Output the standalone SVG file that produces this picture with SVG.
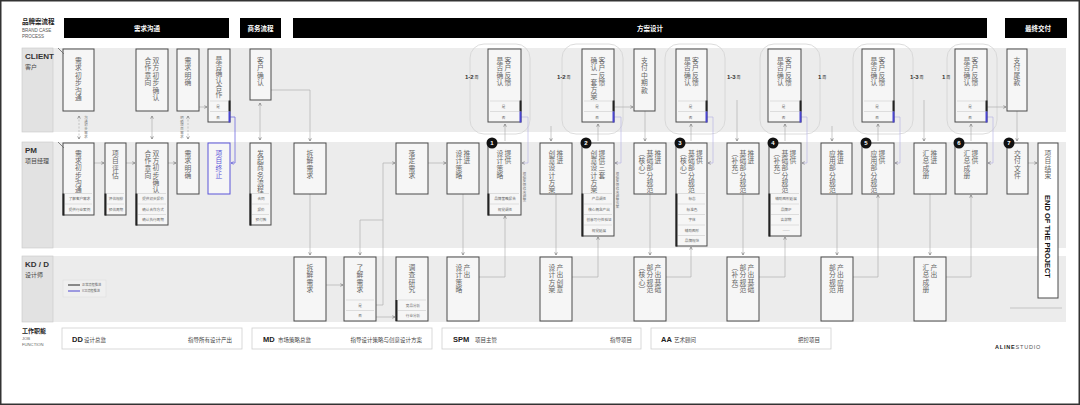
<svg xmlns="http://www.w3.org/2000/svg" width="1080" height="405" viewBox="0 0 1080 405">
<style>
.lane{fill:#ececec}
.lab{fill:#e2e2e2;stroke:#c8c8c8;stroke-width:.6}
.n{fill:#f6f6f6;stroke:#4a4a4a;stroke-width:1}
.nb{fill:#f6f6f6;stroke:#5a55d8;stroke-width:1}
.sep{stroke:#c4c4c4;stroke-width:.5}
.v{font-family:"Noto Sans CJK SC","Noto Sans CJK JP",sans-serif;font-size:6.8px;fill:#666;text-anchor:middle}
.vb{font-family:"Noto Sans CJK SC","Noto Sans CJK JP",sans-serif;font-size:6.8px;fill:#5a55d8;text-anchor:middle}
.vt{font-family:"Noto Sans CJK SC",sans-serif;font-size:3.4px;fill:#777;text-anchor:middle}
.s{font-family:"Noto Sans CJK SC",sans-serif;font-size:3.6px;fill:#666;text-anchor:middle}
.c{fill:none;stroke:#a9a9a9;stroke-width:.6}
.cp{fill:none;stroke:#b3b0e4;stroke-width:.6}
.cb{fill:none;stroke:#6e69e0;stroke-width:.8}
.ol{fill:none;stroke:#d3d3d3;stroke-width:.8}
.ht{font-family:"Noto Sans CJK SC",sans-serif;font-size:6.5px;font-weight:700;fill:#fff;text-anchor:middle}
.bar{fill:#222}
.blu{fill:#4a45d0}
.bt{font-family:"Liberation Sans",Arial,sans-serif;font-size:6px;font-weight:700;fill:#fff;text-anchor:middle}
.jb{font-family:"Liberation Sans",Arial,sans-serif;font-size:7.5px;font-weight:700;fill:#222}
.jt{font-family:"Noto Sans CJK SC",sans-serif;font-size:5.5px;fill:#444}
.jr{font-family:"Noto Sans CJK SC",sans-serif;font-size:5.5px;fill:#444;text-anchor:end}
.jbox{fill:#fff;stroke:#cfcfcf;stroke-width:.8}
</style>
<defs>
<marker id="ch" viewBox="0 0 6 6" refX="5" refY="3" markerWidth="4" markerHeight="4" orient="auto-start-reverse" markerUnits="userSpaceOnUse"><path d="M1,1 L5,3 L1,5" fill="none" stroke="#777" stroke-width="1"/></marker>
<marker id="chb" viewBox="0 0 6 6" refX="5" refY="3" markerWidth="4" markerHeight="4" orient="auto" markerUnits="userSpaceOnUse"><path d="M1,1 L5,3 L1,5" fill="none" stroke="#5a55d8" stroke-width="1"/></marker>
</defs>
<rect x="0.75" y="0.75" width="1078.5" height="403.5" fill="#fff" stroke="#333" stroke-width="1.5"/>

<g id="title">
<text x="22" y="24" font-family="Noto Sans CJK SC,sans-serif" font-size="6.5" font-weight="700" fill="#222">品牌案流程</text>
<text x="22" y="32" font-family="Liberation Sans,Arial,sans-serif" font-size="4.5" fill="#555">BRAND CASE</text>
<text x="22" y="38" font-family="Liberation Sans,Arial,sans-serif" font-size="4.5" fill="#555">PROCESS</text>
</g>

<g id="headers">
<rect x="64" y="18" width="165" height="20" fill="#000"/>
<text x="147" y="30.5" class="ht">需求沟通</text>
<rect x="240" y="18" width="41" height="20" fill="#000"/>
<text x="260.5" y="30.5" class="ht">商务流程</text>
<rect x="293" y="18" width="694" height="20" fill="#000"/>
<text x="650" y="30.5" class="ht">方案设计</text>
<rect x="1005" y="18" width="62" height="20" fill="#000"/>
<text x="1038" y="30.5" class="ht">最终交付</text>
</g>

<g id="lanes">
<rect class="lane" x="53" y="48" width="1013" height="84"/>
<rect class="lab" x="22" y="48" width="31" height="84"/>
<text x="25" y="59" font-family="Liberation Sans,Arial,sans-serif" font-size="8" font-weight="700" fill="#333">CLIENT</text>
<text x="25" y="69" font-family="Noto Sans CJK SC,sans-serif" font-size="6" fill="#444">客户</text>
<rect class="lane" x="53" y="142" width="1013" height="106"/>
<rect class="lab" x="22" y="142" width="31" height="106"/>
<text x="25" y="153" font-family="Liberation Sans,Arial,sans-serif" font-size="8" font-weight="700" fill="#333">PM</text>
<text x="25" y="163" font-family="Noto Sans CJK SC,sans-serif" font-size="6" fill="#444">项目经理</text>
<rect class="lane" x="53" y="256" width="1013" height="66"/>
<rect class="lab" x="22" y="256" width="31" height="66"/>
<text x="25" y="267" font-family="Liberation Sans,Arial,sans-serif" font-size="8" font-weight="700" fill="#333">KD / D</text>
<text x="25" y="277" font-family="Noto Sans CJK SC,sans-serif" font-size="6" fill="#444">设计师</text>
</g>

<g id="outlines">
<rect class="ol" x="470" y="44" width="60" height="90" rx="14"/>
<rect class="ol" x="562" y="44" width="61" height="90" rx="14"/>
<rect class="ol" x="665" y="44" width="60" height="90" rx="14"/>
<rect class="ol" x="760" y="44" width="60" height="90" rx="14"/>
<rect class="ol" x="853" y="44" width="60" height="90" rx="14"/>
<rect class="ol" x="947" y="44" width="50" height="90" rx="14"/>
<g font-family="Liberation Sans,Arial,sans-serif" fill="#333">
<text x="465" y="79" font-size="6" font-weight="700">1-2<tspan font-size="4" font-weight="400" font-family="Noto Sans CJK SC,sans-serif"> 周</tspan></text>
<text x="557" y="79" font-size="6" font-weight="700">1-2<tspan font-size="4" font-weight="400" font-family="Noto Sans CJK SC,sans-serif"> 周</tspan></text>
<text x="727" y="79" font-size="6" font-weight="700">1-3<tspan font-size="4" font-weight="400" font-family="Noto Sans CJK SC,sans-serif"> 周</tspan></text>
<text x="818" y="79" font-size="6" font-weight="700">1<tspan font-size="4" font-weight="400" font-family="Noto Sans CJK SC,sans-serif"> 周</tspan></text>
<text x="910" y="79" font-size="6" font-weight="700">1-3<tspan font-size="4" font-weight="400" font-family="Noto Sans CJK SC,sans-serif"> 周</tspan></text>
<text x="942" y="79" font-size="6" font-weight="700">1<tspan font-size="4" font-weight="400" font-family="Noto Sans CJK SC,sans-serif"> 周</tspan></text>
</g>
</g>

<g id="connectors">
<path class="c" d="M79,116 V139" stroke-dasharray="2 1.5" marker-start="url(#ch)" marker-end="url(#ch)"/>
<text class="vt" x="86 86 86 86 86 86" y="119 122.7 126.4 130.1 133.8 137.5">沟通初步需求</text>
<path class="c" d="M152,116 V139" marker-start="url(#ch)" marker-end="url(#ch)"/>
<path class="c" d="M188,116 V139" stroke-dasharray="2 1.5" marker-start="url(#ch)" marker-end="url(#ch)"/>
<text class="vt" x="182 182 182 182 182 182" y="119 122.7 126.4 130.1 133.8 137.5">明确项目需求</text>
<path class="c" d="M199,107 H207" marker-end="url(#ch)"/>
<path class="cb" d="M230,117 H235 V163 H231" marker-end="url(#chb)"/>
<path class="c" d="M260,103 V140" marker-start="url(#ch)" marker-end="url(#ch)"/>
<path class="c" d="M271,90 H310 V141" marker-end="url(#ch)"/>
<path class="c" d="M94,163 H104" marker-end="url(#ch)"/>
<path class="c" d="M126,163 H135" marker-end="url(#ch)"/>
<path class="c" d="M168,163 H176" marker-end="url(#ch)"/>
<path class="c" d="M310,194 V255" marker-end="url(#ch)"/>
<path class="c" d="M326,285 H343" marker-end="url(#ch)"/>
<path class="c" d="M383,220 H360 V255" marker-end="url(#ch)"/>
<path class="c" d="M376,305 H383 V163 H395" marker-end="url(#ch)"/>
<path class="c" d="M376,317 H395" marker-end="url(#ch)"/>
<path class="c" d="M428,163 H446" marker-end="url(#ch)"/>
<path class="c" d="M463,194 V255" marker-end="url(#ch)"/>
<path class="c" d="M479,277 H505 V216" marker-end="url(#ch)"/>
<path class="c" d="M505,141 V124" marker-end="url(#ch)"/>
<path class="cp" d="M521,117 H528 V163 H522" marker-end="url(#ch)"/>
<text class="vt" x="524.5 524.5 524.5 524.5 524.5 524.5 524.5 524.5" y="175 178.7 182.4 186.1 189.8 193.5 197.2 200.9">根据反馈修改调整</text>
<path class="c" d="M551,126 V141" marker-end="url(#ch)"/>
<path class="c" d="M556,194 V255" marker-end="url(#ch)"/>
<path class="c" d="M572,277 H598 V237" marker-end="url(#ch)"/>
<path class="c" d="M598,141 V124" marker-end="url(#ch)"/>
<path class="cp" d="M614,117 H621 V163 H615" marker-end="url(#ch)"/>
<text class="vt" x="617.5 617.5 617.5 617.5 617.5 617.5 617.5 617.5 617.5 617.5" y="175 178.7 182.4 186.1 189.8 193.5 197.2 200.9 204.6 208.3">根据反馈修改调整方案</text>
<path class="c" d="M614,107 H633" marker-end="url(#ch)"/>
<path class="c" d="M645,111 V141" marker-end="url(#ch)"/>
<path class="c" d="M650,194 V255" marker-end="url(#ch)"/>
<path class="c" d="M666,277 H691 V247" marker-end="url(#ch)"/>
<path class="c" d="M691,141 V124" marker-end="url(#ch)"/>
<path class="cp" d="M707,117 H713 V163 H708" marker-end="url(#ch)"/>
<path class="c" d="M737,100 V141" marker-end="url(#ch)"/>
<path class="c" d="M743,194 V255" marker-end="url(#ch)"/>
<path class="c" d="M759,277 H785 V237" marker-end="url(#ch)"/>
<path class="c" d="M785,141 V124" marker-end="url(#ch)"/>
<path class="cp" d="M801,117 H807 V163 H802" marker-end="url(#ch)"/>
<path class="c" d="M832,126 V141" marker-end="url(#ch)"/>
<path class="c" d="M837,194 V255" marker-end="url(#ch)"/>
<path class="c" d="M853,277 H878 V195" marker-end="url(#ch)"/>
<path class="c" d="M878,141 V124" marker-end="url(#ch)"/>
<path class="cp" d="M894,117 H900 V163 H895" marker-end="url(#ch)"/>
<path class="c" d="M924,100 V141" marker-end="url(#ch)"/>
<path class="c" d="M930,194 V255" marker-end="url(#ch)"/>
<path class="c" d="M946,277 H971 V195" marker-end="url(#ch)"/>
<path class="c" d="M971,141 V124" marker-end="url(#ch)"/>
<path class="cp" d="M987,117 H993 V163 H988" marker-end="url(#ch)"/>
<path class="c" d="M987,107 H1006" marker-end="url(#ch)"/>
<path class="c" d="M1017,111 V141" marker-end="url(#ch)"/>
<path class="c" d="M1028,163 H1037" marker-end="url(#ch)"/>
<line x1="1010" y1="308" x2="1062" y2="308" stroke="#bbb" stroke-width=".8"/>
</g>

<!-- CLIENT nodes -->
<g id="c1"><rect class="n" x="63" y="49" width="31" height="62"/><line x1="58" y1="48" x2="64" y2="54" stroke="#666" stroke-width=".8"/><text class="v" x="78.5 78.5 78.5 78.5 78.5 78.5" y="63 70.4 77.8 85.2 92.6 100">需求初步沟通</text></g>
<g id="c2"><rect class="n" x="136" y="49" width="32" height="62"/><text class="v" x="156 156 156 156 156 156" y="63 70.4 77.8 85.2 92.6 100">双方初步确认</text><text class="v" x="148 148 148 148" y="63 70.4 77.8 85.2">合作意向</text></g>
<g id="c3"><rect class="n" x="177" y="49" width="22" height="62"/><text class="v" x="188 188 188 188" y="63 70.4 77.8 85.2">需求明确</text></g>
<g id="c4"><rect class="n" x="208" y="49" width="22" height="73"/><text class="v" x="219 219 219 219 219 219" y="62 69 76 83 90 97">是否确认合作</text><line class="sep" x1="210" y1="101" x2="228" y2="101"/><line class="sep" x1="210" y1="111.5" x2="228" y2="111.5"/><text class="s" x="218" y="108">是</text><text class="s" x="218" y="118.5">否</text><rect class="bar" x="228.5" y="100.5" width="2" height="11"/><rect class="blu" x="228.5" y="111.5" width="2" height="11"/></g>
<g id="c5"><rect class="n" x="250" y="49" width="21" height="51"/><text class="v" x="260.5 260.5 260.5 260.5" y="63 70.4 77.8 85.2">客户确认</text></g>
<g id="c6"><rect class="n" x="488" y="49" width="33" height="73"/><text class="v" x="508 508 508 508" y="63 70.4 77.8 85.2">客户反馈</text><text class="v" x="500 500 500 500" y="63 70.4 77.8 85.2">是否确认</text><line class="sep" x1="490" y1="101" x2="519" y2="101"/><line class="sep" x1="490" y1="111.5" x2="519" y2="111.5"/><text class="s" x="503.5" y="108">是</text><text class="s" x="503.5" y="118.5">否</text><rect class="bar" x="519.5" y="100.5" width="2" height="11"/><rect class="blu" x="519.5" y="111.5" width="2" height="11"/></g>
<g id="c7"><rect class="n" x="582" y="49" width="32" height="73"/><text class="v" x="602 602 602 602" y="63 70.4 77.8 85.2">客户反馈</text><text class="v" x="594 594 594 594 594 594" y="63 70.2 77.4 84.6 91.8 99">确认一套方案</text><line class="sep" x1="584" y1="101" x2="612" y2="101"/><line class="sep" x1="584" y1="111.5" x2="612" y2="111.5"/><text class="s" x="597" y="108">是</text><text class="s" x="597" y="118.5">否</text><rect class="bar" x="612.5" y="100.5" width="2" height="11"/><rect class="blu" x="612.5" y="111.5" width="2" height="11"/></g>
<g id="c8"><rect class="n" x="634" y="49" width="21" height="62"/><text class="v" x="644.5 644.5 644.5 644.5 644.5" y="63 70.4 77.8 85.2 92.6">支付中期款</text></g>
<g id="c9"><rect class="n" x="676" y="49" width="31" height="73"/><text class="v" x="695.5 695.5 695.5 695.5" y="63 70.4 77.8 85.2">客户反馈</text><text class="v" x="687.5 687.5 687.5 687.5" y="63 70.4 77.8 85.2">是否确认</text><line class="sep" x1="678" y1="101" x2="705" y2="101"/><line class="sep" x1="678" y1="111.5" x2="705" y2="111.5"/><text class="s" x="690.5" y="108">是</text><text class="s" x="690.5" y="118.5">否</text><rect class="bar" x="705.5" y="100.5" width="2" height="11"/><rect class="blu" x="705.5" y="111.5" width="2" height="11"/></g>
<g id="c10"><rect class="n" x="768" y="49" width="33" height="73"/><text class="v" x="788.5 788.5 788.5 788.5" y="63 70.4 77.8 85.2">客户反馈</text><text class="v" x="780.5 780.5 780.5 780.5" y="63 70.4 77.8 85.2">是否确认</text><line class="sep" x1="770" y1="101" x2="799" y2="101"/><line class="sep" x1="770" y1="111.5" x2="799" y2="111.5"/><text class="s" x="783.5" y="108">是</text><text class="s" x="783.5" y="118.5">否</text><rect class="bar" x="799.5" y="100.5" width="2" height="11"/><rect class="blu" x="799.5" y="111.5" width="2" height="11"/></g>
<g id="c11"><rect class="n" x="862" y="49" width="32" height="73"/><text class="v" x="882 882 882 882" y="63 70.4 77.8 85.2">客户反馈</text><text class="v" x="874 874 874 874" y="63 70.4 77.8 85.2">是否确认</text><line class="sep" x1="864" y1="101" x2="892" y2="101"/><line class="sep" x1="864" y1="111.5" x2="892" y2="111.5"/><text class="s" x="877" y="108">是</text><text class="s" x="877" y="118.5">否</text><rect class="bar" x="892.5" y="100.5" width="2" height="11"/><rect class="blu" x="892.5" y="111.5" width="2" height="11"/></g>
<g id="c12"><rect class="n" x="955" y="49" width="32" height="73"/><text class="v" x="975 975 975 975" y="63 70.4 77.8 85.2">客户反馈</text><text class="v" x="967 967 967 967" y="63 70.4 77.8 85.2">是否确认</text><line class="sep" x1="957" y1="101" x2="985" y2="101"/><line class="sep" x1="957" y1="111.5" x2="985" y2="111.5"/><text class="s" x="970" y="108">是</text><text class="s" x="970" y="118.5">否</text><rect class="bar" x="985.5" y="100.5" width="2" height="11"/><rect class="blu" x="985.5" y="111.5" width="2" height="11"/></g>
<g id="c13"><rect class="n" x="1007" y="49" width="20" height="62"/><text class="v" x="1017 1017 1017 1017" y="63 70.4 77.8 85.2">支付尾款</text></g>

<!-- PM nodes -->
<g id="p1"><rect class="n" x="63" y="143" width="31" height="72"/><line x1="58" y1="142" x2="64" y2="148" stroke="#666" stroke-width=".8"/><text class="v" x="78.5 78.5 78.5 78.5 78.5 78.5" y="156 163.2 170.4 177.6 184.8 192">需求初步沟通</text><line class="sep" x1="65" y1="193.5" x2="92" y2="193.5"/><line class="sep" x1="65" y1="204" x2="92" y2="204"/><text class="s" x="79.5" y="200.3">了解客户需求</text><text class="s" x="79.5" y="210.8">提供行业案例</text><rect class="bar" x="62.5" y="193.5" width="2" height="22"/></g>
<g id="p2"><rect class="n" x="105" y="143" width="21" height="72"/><text class="v" x="115.5 115.5 115.5 115.5" y="156 163.4 170.8 178.2">项目评估</text><line class="sep" x1="107" y1="193.5" x2="124" y2="193.5"/><line class="sep" x1="107" y1="204" x2="124" y2="204"/><text class="s" x="116" y="200.3">评估规模</text><text class="s" x="116" y="210.8">预估周期</text><rect class="bar" x="104.5" y="193.5" width="2" height="22"/></g>
<g id="p3"><rect class="n" x="136" y="143" width="32" height="82"/><text class="v" x="156 156 156 156 156 156" y="156 163.2 170.4 177.6 184.8 192">双方初步确认</text><text class="v" x="148 148 148 148" y="156 163.4 170.8 178.2">合作意向</text><line class="sep" x1="138" y1="193.5" x2="166" y2="193.5"/><line class="sep" x1="138" y1="204" x2="166" y2="204"/><line class="sep" x1="138" y1="214.5" x2="166" y2="214.5"/><text class="s" x="153" y="200.3">提供初步报价</text><text class="s" x="153" y="210.8">确认合作方式</text><text class="s" x="153" y="221.3">确认执行周期</text><rect class="bar" x="135.5" y="193.5" width="2" height="32"/></g>
<g id="p4"><rect class="n" x="177" y="143" width="22" height="51"/><text class="v" x="188 188 188 188" y="156 163.4 170.8 178.2">需求明确</text></g>
<g id="p5"><rect class="nb" x="208" y="143" width="22" height="51"/><text class="vb" x="219 219 219 219" y="156 163.4 170.8 178.2">项目终止</text></g>
<g id="p6"><rect class="n" x="250" y="143" width="21" height="82"/><text class="v" x="260.5 260.5 260.5 260.5 260.5 260.5" y="156 163.2 170.4 177.6 184.8 192">发起商务流程</text><line class="sep" x1="252" y1="193.5" x2="269" y2="193.5"/><line class="sep" x1="252" y1="204" x2="269" y2="204"/><line class="sep" x1="252" y1="214.5" x2="269" y2="214.5"/><text class="s" x="261" y="200.3">合同</text><text class="s" x="261" y="210.8">报价</text><text class="s" x="261" y="221.3">预付款</text><rect class="bar" x="249.5" y="193.5" width="2" height="32"/></g>
<g id="p7"><rect class="n" x="294" y="143" width="32" height="51"/><text class="v" x="310 310 310 310" y="156 163.4 170.8 178.2">拆解需求</text></g>
<g id="p8"><rect class="n" x="396" y="143" width="32" height="51"/><text class="v" x="412 412 412 412" y="156 163.4 170.8 178.2">落定需求</text></g>
<g id="p9"><rect class="n" x="447" y="143" width="32" height="51"/><text class="v" x="467 467" y="156 163.4">推进</text><text class="v" x="459 459 459 459" y="156 163.4 170.8 178.2">设计策略</text></g>
<g id="p10"><rect class="n" x="488" y="143" width="33" height="72"/><text class="v" x="508 508" y="156 163.4">提供</text><text class="v" x="500 500 500 500" y="156 163.4 170.8 178.2">设计策略</text><line class="sep" x1="490" y1="193.5" x2="519" y2="193.5"/><line class="sep" x1="490" y1="204" x2="519" y2="204"/><text class="s" x="505" y="200.3">品牌策略报告</text><text class="s" x="505" y="210.8">视觉调性</text><rect class="bar" x="487.5" y="193.5" width="2" height="22"/><circle cx="492" cy="143" r="5.5" fill="#111"/><text class="bt" x="492" y="145.2">1</text></g>
<g id="p11"><rect class="n" x="540" y="143" width="32" height="51"/><text class="v" x="560 560" y="156 163.2">推进</text><text class="v" x="552 552 552 552 552 552" y="156 163.2 170.4 177.6 184.8 192">创意设计方案</text></g>
<g id="p12"><rect class="n" x="582" y="143" width="32" height="93"/><text class="v" x="602 602 602 602" y="156 163.2 170.4 177.6">提供三套</text><text class="v" x="594 594 594 594 594 594" y="156 163.2 170.4 177.6 184.8 192">创意设计方案</text><line class="sep" x1="584" y1="193.5" x2="612" y2="193.5"/><line class="sep" x1="584" y1="204" x2="612" y2="204"/><line class="sep" x1="584" y1="214.5" x2="612" y2="214.5"/><line class="sep" x1="584" y1="225" x2="612" y2="225"/><text class="s" x="599" y="200.3">产品调性</text><text class="s" x="599" y="210.8">核心概念产出</text><text class="s" x="599" y="221.3">创意可行性验证</text><text class="s" x="599" y="231.8">视觉延展</text><rect class="bar" x="581.5" y="193.5" width="2" height="43"/><circle cx="586" cy="143" r="5.5" fill="#111"/><text class="bt" x="586" y="145.2">2</text></g>
<g id="p13"><rect class="n" x="634" y="143" width="32" height="51"/><text class="v" x="658 658" y="156 163.2">推进</text><text class="v" x="650 650 650 650 650 650" y="156 163.2 170.4 177.6 184.8 192">基础部分规范</text><text class="v" x="642 642 642 642" y="156 163.2 170.4 177.6">︵核心︶</text></g>
<g id="p14"><rect class="n" x="676" y="143" width="31" height="103"/><text class="v" x="699.5 699.5" y="156 163.2">提供</text><text class="v" x="691.5 691.5 691.5 691.5 691.5 691.5" y="156 163.2 170.4 177.6 184.8 192">基础部分规范</text><text class="v" x="683.5 683.5 683.5 683.5" y="156 163.2 170.4 177.6">︵核心︶</text><line class="sep" x1="678" y1="193.5" x2="705" y2="193.5"/><line class="sep" x1="678" y1="204" x2="705" y2="204"/><line class="sep" x1="678" y1="214.5" x2="705" y2="214.5"/><line class="sep" x1="678" y1="225" x2="705" y2="225"/><line class="sep" x1="678" y1="235.5" x2="705" y2="235.5"/><text class="s" x="692" y="200.3">标志</text><text class="s" x="692" y="210.8">标准色</text><text class="s" x="692" y="221.3">字体</text><text class="s" x="692" y="231.8">辅助图形</text><text class="s" x="692" y="242.3">品牌规范</text><rect class="bar" x="675.5" y="193.5" width="2" height="53"/><circle cx="680" cy="143" r="5.5" fill="#111"/><text class="bt" x="680" y="145.2">3</text></g>
<g id="p15"><rect class="n" x="727" y="143" width="32" height="51"/><text class="v" x="751 751" y="156 163.2">推进</text><text class="v" x="743 743 743 743 743 743" y="156 163.2 170.4 177.6 184.8 192">基础部分规范</text><text class="v" x="735 735 735 735" y="156 163.2 170.4 177.6">︵补充︶</text></g>
<g id="p16"><rect class="n" x="769" y="143" width="32" height="93"/><text class="v" x="793 793" y="156 163.2">提供</text><text class="v" x="785 785 785 785 785 785" y="156 163.2 170.4 177.6 184.8 192">基础部分规范</text><text class="v" x="777 777 777 777" y="156 163.2 170.4 177.6">︵补充︶</text><line class="sep" x1="771" y1="193.5" x2="799" y2="193.5"/><line class="sep" x1="771" y1="204" x2="799" y2="204"/><line class="sep" x1="771" y1="214.5" x2="799" y2="214.5"/><line class="sep" x1="771" y1="225" x2="799" y2="225"/><text class="s" x="786" y="200.3">辅助图形延展</text><text class="s" x="786" y="210.8">品牌IP</text><text class="s" x="786" y="221.3">吉祥物</text><text class="s" x="786" y="231.8">……</text><rect class="bar" x="768.5" y="193.5" width="2" height="43"/><circle cx="773" cy="143" r="5.5" fill="#111"/><text class="bt" x="773" y="145.2">4</text></g>
<g id="p17"><rect class="n" x="821" y="143" width="31" height="51"/><text class="v" x="840.5 840.5" y="156 163.2">推进</text><text class="v" x="832.5 832.5 832.5 832.5 832.5 832.5" y="156 163.2 170.4 177.6 184.8 192">应用部分规范</text></g>
<g id="p18"><rect class="n" x="862" y="143" width="32" height="51"/><text class="v" x="882 882" y="156 163.2">提供</text><text class="v" x="874 874 874 874 874 874" y="156 163.2 170.4 177.6 184.8 192">应用部分规范</text><circle cx="866" cy="143" r="5.5" fill="#111"/><text class="bt" x="866" y="145.2">5</text></g>
<g id="p19"><rect class="n" x="914" y="143" width="32" height="51"/><text class="v" x="934 934" y="156 163.4">推进</text><text class="v" x="926 926 926 926" y="156 163.4 170.8 178.2">汇总成册</text></g>
<g id="p20"><rect class="n" x="955" y="143" width="32" height="51"/><text class="v" x="975 975" y="156 163.4">提供</text><text class="v" x="967 967 967 967" y="156 163.4 170.8 178.2">汇总成册</text><circle cx="959" cy="143" r="5.5" fill="#111"/><text class="bt" x="959" y="145.2">6</text></g>
<g id="p21"><rect class="n" x="1007" y="143" width="21" height="51"/><text class="v" x="1017.5 1017.5 1017.5 1017.5" y="156 163.4 170.8 178.2">交付文件</text><circle cx="1009" cy="143" r="5.5" fill="#111"/><text class="bt" x="1009" y="145.2">7</text></g>
<g id="p22"><rect x="1038" y="143" width="20" height="155" fill="#fff" stroke="#4a4a4a" stroke-width="1"/><text class="v" x="1048 1048 1048 1048" y="156 163.4 170.8 178.2">项目结束</text><text transform="translate(1045,195) rotate(90)" font-family="Liberation Sans,Arial,sans-serif" font-size="7.5" font-weight="700" fill="#111">END OF THE PROJECT</text></g>

<!-- KD / D nodes -->
<g id="k1"><rect class="n" x="294" y="257" width="32" height="64"/><text class="v" x="310 310 310 310" y="270 277.4 284.8 292.2">拆解需求</text></g>
<g id="k2"><rect class="n" x="344" y="257" width="32" height="64"/><text class="v" x="360 360 360 360" y="270 277.4 284.8 292.2">了解需求</text><line class="sep" x1="346" y1="300" x2="374" y2="300"/><line class="sep" x1="346" y1="310.5" x2="374" y2="310.5"/><text class="s" x="360" y="306.8">是</text><text class="s" x="360" y="317.3">否</text></g>
<g id="k3"><rect class="n" x="396" y="257" width="32" height="64"/><text class="v" x="412 412 412 412" y="270 277.4 284.8 292.2">调查研究</text><line class="sep" x1="398" y1="300" x2="426" y2="300"/><line class="sep" x1="398" y1="310.5" x2="426" y2="310.5"/><text class="s" x="413" y="306.8">竞品分析</text><text class="s" x="413" y="317.3">行业分析</text><rect class="bar" x="395.5" y="300" width="2" height="21"/></g>
<g id="k4"><rect class="n" x="447" y="257" width="32" height="64"/><text class="v" x="467 467" y="270 277.4">产出</text><text class="v" x="459 459 459 459" y="270 277.4 284.8 292.2">设计策略</text></g>
<g id="k5"><rect class="n" x="540" y="257" width="32" height="64"/><text class="v" x="560 560 560 560" y="270 277.4 284.8 292.2">产出创意</text><text class="v" x="552 552 552 552" y="270 277.4 284.8 292.2">设计方案</text></g>
<g id="k6"><rect class="n" x="634" y="257" width="32" height="64"/><text class="v" x="658 658 658 658" y="270 277.4 284.8 292.2">产出基础</text><text class="v" x="650 650 650 650" y="270 277.4 284.8 292.2">部分规范</text><text class="v" x="642 642 642 642" y="270 277.4 284.8 292.2">︵核心︶</text></g>
<g id="k7"><rect class="n" x="727" y="257" width="32" height="64"/><text class="v" x="751 751 751 751" y="270 277.4 284.8 292.2">产出基础</text><text class="v" x="743 743 743 743" y="270 277.4 284.8 292.2">部分规范</text><text class="v" x="735 735 735 735" y="270 277.4 284.8 292.2">︵补充︶</text></g>
<g id="k8"><rect class="n" x="821" y="257" width="32" height="64"/><text class="v" x="840.5 840.5 840.5 840.5" y="270 277.4 284.8 292.2">产出应用</text><text class="v" x="832.5 832.5 832.5 832.5" y="270 277.4 284.8 292.2">部分规范</text></g>
<g id="k9"><rect class="n" x="914" y="257" width="32" height="64"/><text class="v" x="934 934" y="270 277.4">产出</text><text class="v" x="926 926 926 926" y="270 277.4 284.8 292.2">汇总成册</text></g>

<g id="legend">
<rect x="63" y="280" width="43" height="17" fill="#efefef" stroke="#dadada" stroke-width=".5"/>
<line x1="68" y1="285" x2="80" y2="285" stroke="#222" stroke-width="1"/>
<text x="82" y="286.3" font-family="Noto Sans CJK SC,sans-serif" font-size="3.2" fill="#666">正常流程推进</text>
<line x1="68" y1="291" x2="80" y2="291" stroke="#4a45d0" stroke-width="1"/>
<text x="82" y="292.3" font-family="Noto Sans CJK SC,sans-serif" font-size="3.2" fill="#666">ICD流程推进</text>
</g>

<g id="jobs">
<text x="22" y="333" font-family="Noto Sans CJK SC,sans-serif" font-size="6" font-weight="700" fill="#222">工作职能</text>
<text x="22" y="340" font-family="Liberation Sans,Arial,sans-serif" font-size="4.2" fill="#666">JOB</text>
<text x="22" y="346" font-family="Liberation Sans,Arial,sans-serif" font-size="4.2" fill="#666">FUNCTION</text>
<g id="dd"><rect class="jbox" x="62" y="328" width="180" height="21"/><text class="jb" x="72" y="342">DD</text><text class="jt" x="84" y="341.5">设计总监</text><text class="jr" x="232" y="341.5">指导所有设计产出</text></g>
<g id="md"><rect class="jbox" x="252" y="328" width="180" height="21"/><text class="jb" x="263" y="342">MD</text><text class="jt" x="278" y="341.5">市场策略总监</text><text class="jr" x="422" y="341.5">指导设计策略与创意设计方案</text></g>
<g id="spm"><rect class="jbox" x="442" y="328" width="199" height="21"/><text class="jb" x="453" y="342">SPM</text><text class="jt" x="475" y="341.5">项目主管</text><text class="jr" x="632" y="341.5">指导项目</text></g>
<g id="aa"><rect class="jbox" x="651" y="328" width="180" height="21"/><text class="jb" x="661" y="342">AA</text><text class="jt" x="674" y="341.5">艺术顾问</text><text class="jr" x="820" y="341.5">把控项目</text></g>
</g>

<text x="995" y="349" font-family="Liberation Sans,Arial,sans-serif" font-size="5.5" letter-spacing=".8" fill="#222"><tspan font-weight="700">ALINE</tspan><tspan fill="#555">STUDIO</tspan></text>
</svg>
